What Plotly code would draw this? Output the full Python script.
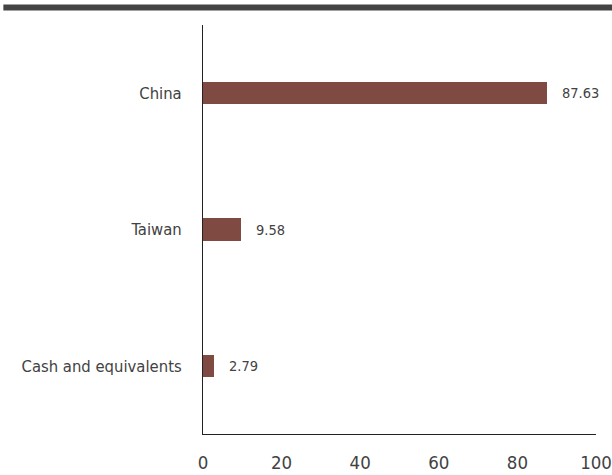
import plotly.graph_objects as go

categories = ["China", "Taiwan", "Cash and equivalents"]
values = [87.63, 9.58, 2.79]
value_labels = ["87.63", "9.58", "2.79"]
tick_vals = [0, 20, 40, 60, 80, 100]

FONT = "DejaVu Sans Condensed"
TXT = "#424242"

fig = go.Figure()
fig.add_trace(go.Bar(
    x=values, y=categories, orientation="h",
    marker=dict(color="#7e4a41", line=dict(width=0)),
    width=0.165,
))
for v, c, t in zip(values, categories, value_labels):
    fig.add_annotation(x=v, y=c, text=t, showarrow=False, xanchor="left",
                       xshift=13, font=dict(family=FONT, size=14.5, color=TXT))

fig.add_shape(type="line", xref="paper", yref="paper", x0=-0.508, x1=1.05,
              y0=1.043, y1=1.043, line=dict(color="#444444", width=6))

fig.update_layout(
    width=612, height=475,
    margin=dict(l=203, r=16, t=25, b=41),
    paper_bgcolor="white", plot_bgcolor="white",
    showlegend=False,
    font=dict(family=FONT, color=TXT),
    xaxis=dict(range=[0, 100], tickvals=tick_vals, showgrid=False, zeroline=False,
               showline=True, linecolor="#222222", linewidth=1,
               tickfont=dict(family=FONT, size=18.5, color=TXT),
               ticks="", ticklen=0, ticklabelstandoff=12, automargin=False,
               ticklabeloverflow="allow", fixedrange=True),
    yaxis=dict(categoryorder="array", categoryarray=categories[::-1],
               range=[-0.5, 2.5], showgrid=False, zeroline=False,
               showline=True, linecolor="#222222", linewidth=1,
               tickfont=dict(family=FONT, size=16.5, color=TXT),
               ticks="", ticklen=0, ticklabelstandoff=17, automargin=False,
               fixedrange=True),
    bargap=0,
)
fig.write_html("out.html", config={"displayModeBar": False},
               post_script="document.body.style.margin='0';")
